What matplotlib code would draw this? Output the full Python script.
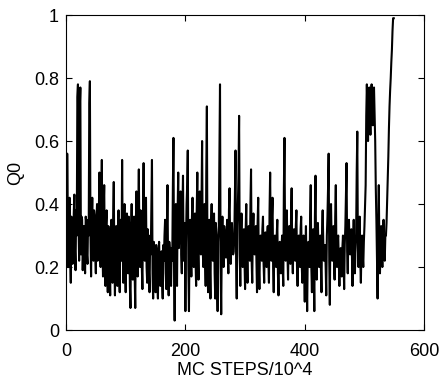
import numpy as np
import matplotlib
matplotlib.use('Agg')
import matplotlib.pyplot as plt

# Q0 read off the scan, sampled every MC step/10^4
# even steps 0, 2, 4, ... (the peaks and dips)
q0_even = [
    0.28, 0.56, 0.20, 0.42, 0.15, 0.35, 0.22, 0.43, 0.19, 0.30,
    0.78, 0.22, 0.77, 0.36, 0.19, 0.33, 0.18, 0.34, 0.21, 0.30,
    0.79, 0.17, 0.42, 0.22, 0.36, 0.18, 0.40, 0.25, 0.50, 0.20,
    0.54, 0.17, 0.46, 0.14, 0.38, 0.12, 0.30, 0.11, 0.35, 0.15,
    0.47, 0.11, 0.33, 0.14, 0.38, 0.12, 0.30, 0.54, 0.15, 0.40,
    0.12, 0.37, 0.18, 0.33, 0.07, 0.40, 0.16, 0.36, 0.07, 0.44,
    0.17, 0.51, 0.20, 0.33, 0.13, 0.53, 0.22, 0.42, 0.15, 0.26,
    0.12, 0.24, 0.54, 0.10, 0.26, 0.12, 0.23, 0.10, 0.28, 0.14,
    0.25, 0.10, 0.22, 0.35, 0.13, 0.46, 0.11, 0.25, 0.14, 0.22,
    0.61, 0.03, 0.40, 0.14, 0.50, 0.30, 0.44, 0.18, 0.49, 0.25,
    0.06, 0.40, 0.57, 0.06, 0.35, 0.17, 0.42, 0.20, 0.37, 0.14,
    0.50, 0.16, 0.44, 0.24, 0.60, 0.20, 0.40, 0.14, 0.71, 0.12,
    0.35, 0.10, 0.40, 0.22, 0.37, 0.10, 0.30, 0.06, 0.33, 0.78,
    0.05, 0.36, 0.20, 0.30, 0.23, 0.35, 0.18, 0.45, 0.21, 0.34,
    0.24, 0.30, 0.57, 0.10, 0.40, 0.68, 0.14, 0.37, 0.20, 0.32,
    0.13, 0.40, 0.15, 0.33, 0.22, 0.51, 0.15, 0.37, 0.24, 0.33,
    0.12, 0.42, 0.13, 0.30, 0.22, 0.36, 0.15, 0.31, 0.20, 0.33,
    0.15, 0.50, 0.22, 0.42, 0.12, 0.30, 0.20, 0.35, 0.11, 0.28,
    0.18, 0.30, 0.14, 0.61, 0.22, 0.38, 0.16, 0.33, 0.21, 0.45,
    0.18, 0.32, 0.22, 0.38, 0.14, 0.30, 0.20, 0.36, 0.15, 0.30,
    0.09, 0.33, 0.06, 0.28, 0.20, 0.46, 0.12, 0.32, 0.06, 0.49,
    0.16, 0.34, 0.20, 0.30, 0.12, 0.38, 0.22, 0.27, 0.11, 0.36,
    0.56, 0.08, 0.40, 0.22, 0.33, 0.16, 0.46, 0.20, 0.30, 0.14,
    0.26, 0.17, 0.30, 0.13, 0.33, 0.53, 0.18, 0.35, 0.24, 0.32,
    0.14, 0.35, 0.18, 0.30, 0.63, 0.20, 0.36, 0.15, 0.30, 0.20,
    0.33, 0.46, 0.78, 0.60, 0.77, 0.62, 0.78, 0.65, 0.77, 0.60,
    0.35, 0.10, 0.46, 0.18, 0.33, 0.20, 0.35, 0.22, 0.30, 0.41,
    0.55, 0.71, 0.80, 0.89, 0.99,
]
# odd steps 1, 3, 5, ... (the dense band in between)
q0_odd = [
    0.22, 0.38, 0.32, 0.24, 0.36, 0.21, 0.37, 0.25, 0.38, 0.74,
    0.33, 0.70, 0.24, 0.35, 0.27, 0.22, 0.36, 0.24, 0.35, 0.72,
    0.30, 0.34, 0.26, 0.38, 0.24, 0.35, 0.22, 0.38, 0.24, 0.40,
    0.26, 0.38, 0.22, 0.34, 0.20, 0.33, 0.19, 0.30, 0.21, 0.36,
    0.22, 0.31, 0.20, 0.33, 0.18, 0.35, 0.22, 0.26, 0.34, 0.20,
    0.30, 0.22, 0.36, 0.14, 0.30, 0.21, 0.33, 0.18, 0.34, 0.24,
    0.36, 0.28, 0.38, 0.20, 0.36, 0.26, 0.33, 0.20, 0.32, 0.18,
    0.30, 0.40, 0.18, 0.28, 0.16, 0.27, 0.15, 0.26, 0.18, 0.24,
    0.16, 0.27, 0.30, 0.18, 0.32, 0.20, 0.28, 0.16, 0.26, 0.45,
    0.20, 0.28, 0.22, 0.38, 0.26, 0.36, 0.24, 0.38, 0.22, 0.34,
    0.28, 0.46, 0.20, 0.30, 0.24, 0.36, 0.26, 0.33, 0.22, 0.38,
    0.24, 0.36, 0.30, 0.40, 0.26, 0.36, 0.24, 0.50, 0.22, 0.30,
    0.20, 0.34, 0.28, 0.33, 0.18, 0.34, 0.16, 0.28, 0.55, 0.20,
    0.28, 0.24, 0.33, 0.26, 0.31, 0.24, 0.38, 0.26, 0.33, 0.28,
    0.25, 0.44, 0.22, 0.33, 0.50, 0.24, 0.30, 0.25, 0.28, 0.22,
    0.32, 0.24, 0.30, 0.26, 0.40, 0.22, 0.32, 0.28, 0.30, 0.22,
    0.34, 0.20, 0.27, 0.24, 0.32, 0.21, 0.28, 0.24, 0.30, 0.22,
    0.38, 0.28, 0.36, 0.20, 0.28, 0.24, 0.30, 0.18, 0.24, 0.22,
    0.26, 0.20, 0.45, 0.30, 0.33, 0.24, 0.30, 0.25, 0.36, 0.24,
    0.28, 0.25, 0.33, 0.20, 0.26, 0.24, 0.32, 0.20, 0.26, 0.20,
    0.26, 0.18, 0.24, 0.27, 0.36, 0.20, 0.28, 0.18, 0.36, 0.24,
    0.30, 0.26, 0.28, 0.20, 0.32, 0.28, 0.24, 0.20, 0.30, 0.45,
    0.22, 0.34, 0.28, 0.30, 0.22, 0.36, 0.26, 0.28, 0.22, 0.24,
    0.20, 0.26, 0.22, 0.27, 0.44, 0.25, 0.30, 0.28, 0.30, 0.24,
    0.28, 0.25, 0.26, 0.50, 0.26, 0.30, 0.22, 0.26, 0.24, 0.28,
    0.40, 0.68, 0.70, 0.72, 0.68, 0.74, 0.70, 0.74, 0.68, 0.45,
    0.22, 0.32, 0.26, 0.28, 0.25, 0.30, 0.26, 0.30, 0.34, 0.48,
    0.64, 0.76, 0.85, 0.95, 0.99,
]

q0 = [v for pair in zip(q0_even, q0_odd) for v in pair]
steps = np.arange(len(q0))

plt.rcParams['font.family'] = ['Liberation Sans', 'DejaVu Sans']

fig = plt.figure(figsize=(4.46, 3.86), dpi=100)
ax = fig.add_axes([0.148, 0.145, 0.803, 0.816])
ax.plot(steps, q0, color='black', linewidth=1.5)

ax.set_xlim(0, 600)
ax.set_ylim(0, 1)
ax.set_xticks([0, 200, 400, 600])
ax.set_yticks([0, 0.2, 0.4, 0.6, 0.8, 1])
ax.set_yticklabels(['0', '0.2', '0.4', '0.6', '0.8', '1'])
ax.tick_params(direction='in', top=True, right=True, labelsize=13, length=4)
ax.tick_params(axis='x', pad=9)
ax.tick_params(axis='y', pad=5)
ax.set_xlabel('MC STEPS/10^4', fontsize=13, labelpad=2)
ax.set_ylabel('Q0', fontsize=13, labelpad=7)

plt.savefig('out.png', dpi=100)
